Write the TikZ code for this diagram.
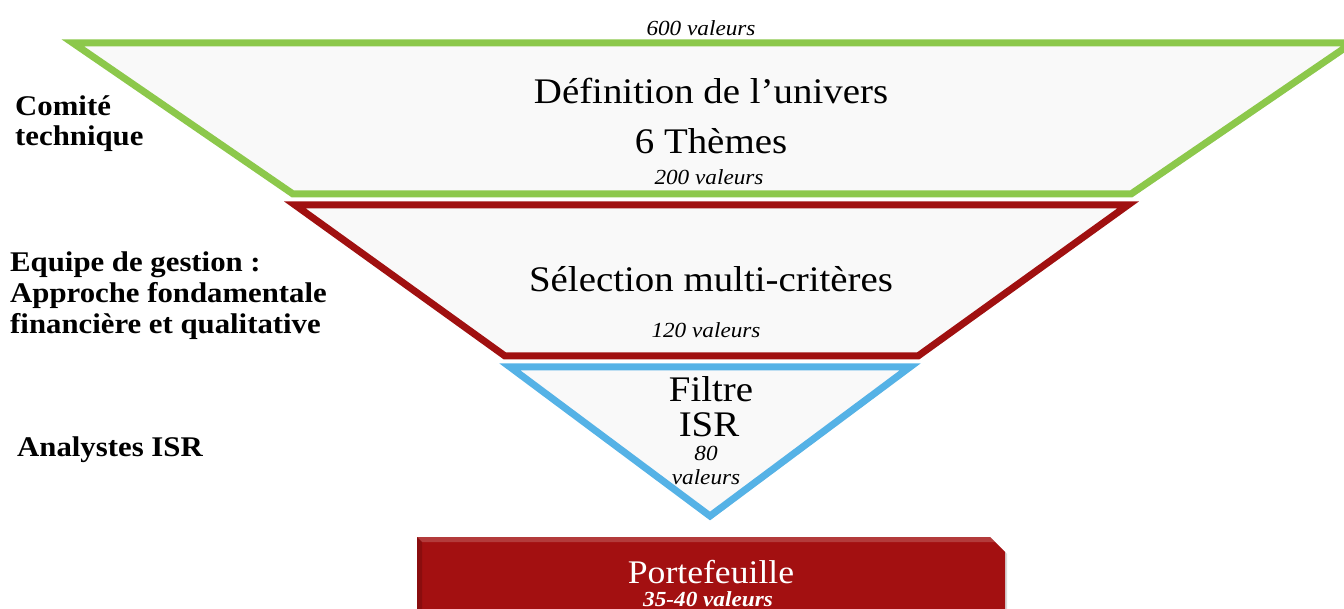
\documentclass[tikz,border=0pt]{standalone}
\usepackage{fontspec}
\setmainfont{Liberation Serif}
\usetikzlibrary{shadows}
\definecolor{cgreen}{RGB}{140,200,75}
\definecolor{cred}{RGB}{160,16,16}
\definecolor{cblue}{RGB}{85,178,230}
\definecolor{cport}{RGB}{163,16,17}
\definecolor{cfill}{RGB}{249,249,249}
\newcommand\hstr[1]{\scalebox{1.08}[1]{#1}}
\tikzset{
  funnel/.style={line width=7pt, line join=miter, fill=cfill,
    drop shadow={opacity=0.3, shadow xshift=1.5pt, shadow yshift=-3pt}},
  big/.style={anchor=base, inner sep=0pt, font=\fontsize{36}{40}\selectfont},
  small/.style={anchor=base, inner sep=0pt, font=\fontsize{21.5}{24}\selectfont\itshape},
  side/.style={anchor=base west, inner sep=0pt, font=\fontsize{28.5}{32}\selectfont\bfseries}
}
\begin{document}
\begin{tikzpicture}[x=1pt,y=-1pt]
\useasboundingbox (0,0) rectangle (1344,609);
\clip (0,0) rectangle (1344,609);
% funnel layers
\draw[funnel, draw=cgreen] (73,43) -- (1352,43) -- (1131,194) -- (293,194) -- cycle;
\draw[funnel, draw=cred] (295,205) -- (1128,205) -- (918,356) -- (505,356) -- cycle;
\draw[funnel, draw=cblue] (510,367) -- (910,367) -- (710,516) -- cycle;
% portefeuille box
\fill[cport, drop shadow={opacity=0.3, shadow xshift=2pt, shadow yshift=-2pt}]
  (417,537) -- (990,537) -- (1005,552) -- (1005,620) -- (417,620) -- cycle;
\fill[white, opacity=0.18] (417,537) -- (990,537) -- (995,542) -- (422,542) -- cycle;
\fill[black, opacity=0.15] (417,537) -- (422,542) -- (422,620) -- (417,620) -- cycle;
% texts in funnel
\node[small] (t600) at (701,36) {\hstr{600 valeurs}};
\node[big] (tdef) at (711,104) {\hstr{Définition de l’univers}};
\node[big] (tthemes) at (711,154) {\hstr{6 Thèmes}};
\node[small] (t200) at (709,185) {\hstr{200 valeurs}};
\node[big] (tsel) at (711,292) {\hstr{Sélection multi-critères}};
\node[small] (t120) at (706,338) {\hstr{120 valeurs}};
\node[big] (tfiltre) at (711,402) {\hstr{Filtre}};
\node[big] (tisr) at (709,436) {\hstr{ISR}};
\node[small] (t80) at (706,460) {\hstr{80}};
\node[small] (tval) at (706,484) {\hstr{valeurs}};
\node[big, white, font=\fontsize{33}{36}\selectfont] (tport) at (711,583) {\hstr{Portefeuille}};
\node[small, white, font=\fontsize{21.5}{24}\selectfont\bfseries\itshape] (t3540) at (708,606) {\hstr{35-40 valeurs}};
% side labels
\node[side] (lcomite) at (15,116) {\hstr{Comité}};
\node[side] (ltech) at (15,146) {\hstr{technique}};
\node[side] (lequipe) at (10,272) {\hstr{Equipe de gestion :}};
\node[side] (lapproche) at (10,303) {\hstr{Approche fondamentale}};
\node[side] (lfin) at (10,334) {\hstr{financière et qualitative}};
\node[side] (lanalystes) at (17,456) {\hstr{Analystes ISR}};
\end{tikzpicture}
\end{document}
